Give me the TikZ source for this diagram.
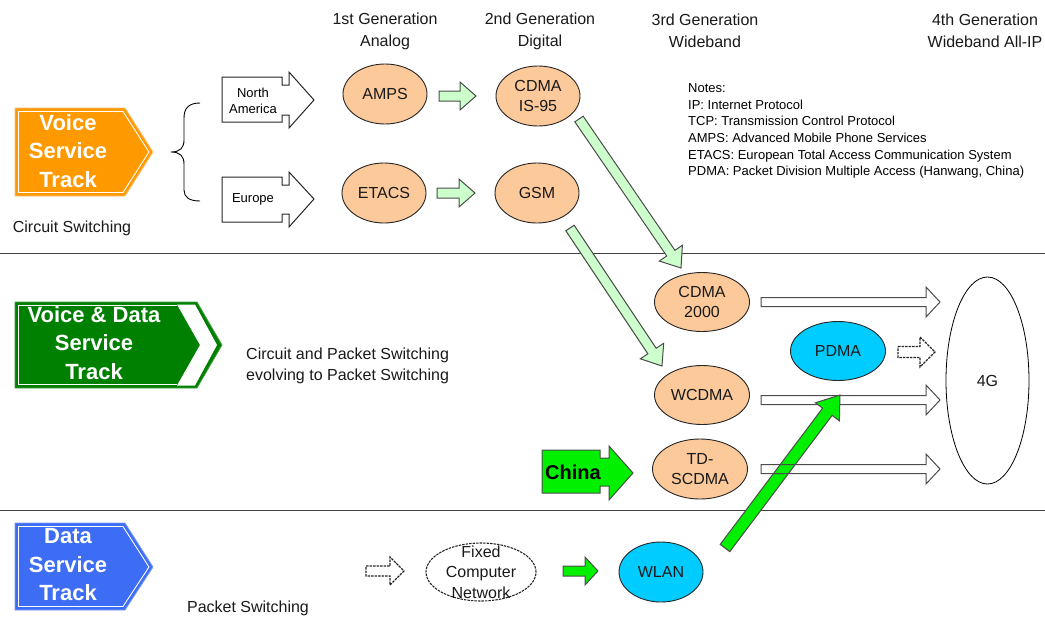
\documentclass[tikz,border=0pt]{standalone}
\usepackage{fontspec}
\setmainfont{Liberation Sans}
\usetikzlibrary{calc,shapes.geometric}
\definecolor{sorange}{HTML}{FF9900}
\definecolor{sorangeline}{HTML}{FFC070}
\definecolor{sgreen}{HTML}{008000}
\definecolor{sgreenline}{HTML}{40A040}
\definecolor{sblue}{HTML}{3D6CF5}
\definecolor{sblueline}{HTML}{7A9CF8}
\definecolor{eorange}{HTML}{FBC99A}
\definecolor{ecyan}{HTML}{00CCFF}
\definecolor{lgreen}{HTML}{CCFFCC}
\definecolor{bgreen}{HTML}{00F000}
\definecolor{divline}{HTML}{404040}
\newcommand\blockarr[6][]{%
  \path ($(#3)!#6!(#2)$) coordinate (bah);
  \path[#1] ($(#2)!#4!90:(#3)$) -- ($(bah)!#4!90:(#3)$) -- ($(bah)!#5!90:(#3)$) -- (#3)
    -- ($(bah)!#5!-90:(#3)$) -- ($(bah)!#4!-90:(#3)$) -- ($(#2)!#4!-90:(#3)$) -- cycle;}
\tikzset{
  txt/.style={inner sep=0pt, align=center, text=black!90, font=\fontsize{16}{20}\selectfont},
  small/.style={inner sep=0pt, align=center, font=\fontsize{13}{16}\selectfont},
  oval/.style={ellipse, draw=black!85, line width=0.9pt, fill=eorange, inner sep=0pt,
    minimum width=84pt, minimum height=60pt},
  bigoval/.style={oval, minimum width=95pt, minimum height=59pt},
  cyanoval/.style={oval, fill=ecyan},
  tracktxt/.style={inner sep=0pt, align=center, text=white,
    font=\bfseries\fontsize{22}{28.5}\selectfont},
  lgarrow/.style={fill=lgreen, draw=black!70, line width=1pt, line join=miter},
  bgarrow/.style={fill=bgreen, draw=black!70, line width=1pt},
  warrow/.style={draw=black!70, line width=1pt},
  darrow/.style={draw=black!85, line width=1.1pt, dash pattern=on 2.5pt off 1pt},
  outlinearrow/.style={fill=white, draw=black!85, line width=1pt}
}
\begin{document}
\begin{tikzpicture}[x=1pt,y=-1pt]
\useasboundingbox (0,0) rectangle (1045,619);
% dividers
\draw[divline, line width=0.8pt] (0,253) -- (1045,253);
\draw[divline, line width=0.8pt] (0,510) -- (1045,510);
% headers
\node[txt, font=\fontsize{16}{22}\selectfont] (g1) at (385,31) {1st Generation\\Analog};
\node[txt, font=\fontsize{16}{22}\selectfont] (g2) at (540,31) {2nd Generation\\Digital};
\node[txt, font=\fontsize{16}{22}\selectfont] (g3) at (705,31) {3rd Generation\\Wideband};
\node[txt, font=\fontsize{16}{22}\selectfont] (g4) at (985,31) {4th Generation\\Wideband All-IP};
% notes
\node[inner sep=0pt, anchor=north west, align=left, font=\fontsize{13}{16.6}\selectfont] (notes) at (688,83.5)
 {Notes:\\IP: Internet Protocol\\TCP: Transmission Control Protocol\\AMPS: Advanced Mobile Phone Services\\ETACS: European Total Access Communication System\\PDMA: Packet Division Multiple Access (Hanwang, China)};
% Voice service track sign
\fill[sorange] (15,108) -- (125,108) -- (153,152) -- (125,196) -- (15,196) -- cycle;
\draw[sorangeline, line width=0.8pt] (15,108) -- (125,108) -- (153,152) -- (125,196) -- (15,196) -- cycle;
\draw[white, line width=0.9pt] (18.5,111.5) -- (123,111.5) -- (149,152) -- (123,192.5) -- (18.5,192.5) -- cycle;
\node[tracktxt] (voice) at (68,151) {Voice\\Service\\Track};
% Voice & Data sign
\fill[sgreen] (15,302) -- (197,302) -- (222,345) -- (197,388) -- (15,388) -- cycle;
\draw[sgreenline, line width=0.8pt] (15,302) -- (197,302) -- (222,345) -- (197,388) -- (15,388) -- cycle;
\draw[white, line width=0.9pt] (177,305.5) -- (18.5,305.5) -- (18.5,384.5) -- (177,384.5);
\fill[white] (177,304.5) -- (195,304.5) -- (217,345) -- (195,385.5) -- (177,385.5) -- (200,345) -- cycle;
\node[tracktxt] (vdata) at (94,343) {Voice \& Data\\Service\\Track};
% Data sign
\fill[sblue] (15,523) -- (125,523) -- (153,567) -- (125,610) -- (15,610) -- cycle;
\draw[sblueline, line width=0.8pt] (15,523) -- (125,523) -- (153,567) -- (125,610) -- (15,610) -- cycle;
\draw[white, line width=0.9pt] (18.5,526.5) -- (123,526.5) -- (149,567) -- (123,606.5) -- (18.5,606.5) -- cycle;
\node[tracktxt] (data) at (68,565) {Data\\Service\\Track};
% side texts
\node[txt] (cs) at (72,228) {Circuit Switching};
\node[txt, anchor=west, align=left, font=\fontsize{16}{21}\selectfont] (cps) at (246,365.5) {Circuit and Packet Switching\\evolving to Packet Switching};
\node[txt] (ps) at (248,608) {Packet Switching};
% brace
\draw[black, line width=0.9pt] (200,103) .. controls (189,103) and (184,108) .. (184,118)
  -- (184,140) .. controls (184,148) and (180,152) .. (171,152)
  .. controls (180,152) and (184,156) .. (184,164) -- (184,190)
  .. controls (184,197) and (189,201) .. (200,201);
% North America / Europe arrows
\draw[outlinearrow] (222,77) -- (282,77) -- (282,85) -- (289,85) -- (289,72) -- (314,100)
  -- (289,128) -- (289,115) -- (282,115) -- (282,122) -- (222,122) -- cycle;
\node[small] (na) at (253,100.5) {North\\America};
\draw[outlinearrow] (222,177) -- (282,177) -- (282,185) -- (289,185) -- (289,172) -- (314,199)
  -- (289,227) -- (289,214) -- (282,214) -- (282,222) -- (222,222) -- cycle;
\node[small] (eu) at (253,199) {Europe};
% ellipses
\node[oval] (amps) at (385,94) {};
\node[txt] at (amps) {AMPS};
\node[oval] (is95) at (538,96) {};
\node[txt] at (is95) {CDMA\\IS-95};
\node[oval] (etacs) at (384,193) {};
\node[txt] at (etacs) {ETACS};
\node[oval] (gsm) at (537,193) {};
\node[txt] at (gsm) {GSM};
\node[bigoval] (c2000) at (702,302) {};
\node[txt] at (c2000) {CDMA\\2000};
\node[bigoval] (wcdma) at (702,395) {};
\node[txt] at (wcdma) {WCDMA};
\node[bigoval, minimum height=60pt] (tds) at (700,469) {};
\node[txt] at (tds) {TD-\\SCDMA};
\node[cyanoval, minimum width=95pt, minimum height=59pt] (pdma) at (838,351) {};
\node[txt] at (pdma) {PDMA};
\node[cyanoval] (wlan) at (661,572) {};
\node[txt] at (wlan) {WLAN};
\node[ellipse, draw=black!85, line width=1.1pt, dash pattern=on 2.5pt off 1pt, minimum width=110pt, minimum height=58pt, inner sep=0pt] (fcn) at (481,572) {};
\node[txt, font=\fontsize{16}{20.5}\selectfont] at (fcn) {Fixed\\Computer\\Network};
\node[ellipse, draw=black, line width=0.8pt, fill=white, minimum width=83pt, minimum height=207pt, inner sep=0pt] (g4e) at (987.5,380.5) {};
\node[txt] at (g4e) {4G};
% China arrow
\draw[bgarrow] (542,450) -- (600,450) -- (600,458) -- (609,458) -- (609,446) -- (633,473)
  -- (609,500) -- (609,486) -- (600,486) -- (600,493) -- (542,493) -- cycle;
\node[inner sep=0pt, font=\bfseries\fontsize{20}{24}\selectfont] (china) at (573,472) {China};
% arrow end coordinates
\coordinate (a1s) at (439,96);  \coordinate (a1e) at (476,96);
\coordinate (a2s) at (437,193); \coordinate (a2e) at (475,193);
\coordinate (d1s) at (579,119); \coordinate (d1e) at (681,268);
\coordinate (d2s) at (570,228); \coordinate (d2e) at (662,366);
\coordinate (w1s) at (761,302); \coordinate (w1e) at (940,302);
\coordinate (w2s) at (761,400); \coordinate (w2e) at (940,400);
\coordinate (w3s) at (761,469); \coordinate (w3e) at (940,469);
\coordinate (p1s) at (898,352); \coordinate (p1e) at (935,352);
\coordinate (f1s) at (366,571); \coordinate (f1e) at (404,571);
\coordinate (f2s) at (563,571); \coordinate (f2e) at (598,571);
\coordinate (gls) at (725,548); \coordinate (gle) at (840,395);
% arrows
\blockarr[lgarrow]{a1s}{a1e}{5pt}{14pt}{16pt}
\blockarr[lgarrow]{a2s}{a2e}{5pt}{14pt}{16pt}
\blockarr[lgarrow]{d1s}{d1e}{5pt}{14pt}{18pt}
\blockarr[lgarrow]{d2s}{d2e}{5pt}{14pt}{18pt}
\blockarr[warrow]{w1s}{w1e}{4.5pt}{15pt}{14pt}
\blockarr[warrow]{w2s}{w2e}{4.5pt}{15pt}{14pt}
\blockarr[bgarrow]{gls}{gle}{6pt}{15pt}{21pt}
\blockarr[warrow]{w3s}{w3e}{4.5pt}{15pt}{14pt}
\blockarr[darrow]{p1s}{p1e}{5.5pt}{15pt}{15pt}
\blockarr[darrow]{f1s}{f1e}{5pt}{14pt}{14pt}
\blockarr[bgarrow]{f2s}{f2e}{5pt}{14pt}{13pt}
\end{tikzpicture}
\end{document}
